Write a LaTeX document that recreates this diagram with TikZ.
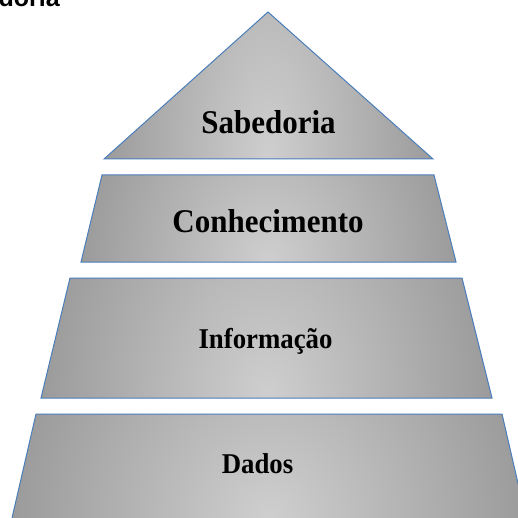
\documentclass[tikz,border=0pt]{standalone}
\usepackage{fontspec}
\setmainfont{Liberation Serif}
\newfontfamily\arialfont{Liberation Sans}
\definecolor{pyrlight}{gray}{0.81}
\definecolor{pyrmid}{gray}{0.60}
\definecolor{pyrdark}{gray}{0.38}
\definecolor{edgeblue}{HTML}{4A7EBB}
\pgfdeclareradialshading{pyrshade}{\pgfpointorigin}{color(0bp)=(pyrlight); color(25bp)=(pyrmid); color(50bp)=(pyrdark)}
\tikzset{
  edge/.style={draw=edgeblue, line width=1pt, line join=miter},
  lbl/.style={text=black, anchor=base, inner sep=0pt, yscale=1.07},
  bigfont/.style={font=\bfseries\fontsize{31}{36}\selectfont},
  midfont/.style={font=\bfseries\fontsize{26.8}{32}\selectfont}
}
\begin{document}
\begin{tikzpicture}[x=1pt,y=-1pt]
\useasboundingbox (0,0) rectangle (518,518);
\clip (0,0) rectangle (518,518);
\node[font=\arialfont\bfseries\fontsize{25}{30}\selectfont, anchor=base east, inner sep=0pt] (title) at (60,6.5) {doria};

% Sabedoria (triangle)
\begin{scope}
\clip (268,12) -- (433,159) -- (104,159) -- cycle;
\shade[shading=pyrshade] (268.5,159) ellipse [x radius=172pt, y radius=400pt];
\end{scope}
\draw[edge] (268,12) -- (433,159) -- (104,159) -- cycle;

% Conhecimento
\begin{scope}
\clip (102,175) -- (434,175) -- (456,262) -- (81,262) -- cycle;
\shade[shading=pyrshade] (268.5,262) ellipse [x radius=195pt, y radius=240pt];
\end{scope}
\draw[edge] (102,175) -- (434,175) -- (456,262) -- (81,262) -- cycle;

% Informacao
\begin{scope}
\clip (70,278) -- (462,278) -- (492,398) -- (41,398) -- cycle;
\shade[shading=pyrshade] (266.5,398) ellipse [x radius=234pt, y radius=330pt];
\end{scope}
\draw[edge] (70,278) -- (462,278) -- (492,398) -- (41,398) -- cycle;

% Dados
\begin{scope}
\clip (36,414) -- (502,414) -- (526,518) -- (12,518) -- cycle;
\shade[shading=pyrshade] (269,518) ellipse [x radius=267pt, y radius=290pt];
\end{scope}
\draw[edge] (12,518) -- (36,414) -- (502,414) -- (526,518);

\node[lbl, bigfont] (sab) at (268.5,134) {Sabedoria};
\node[lbl, bigfont] (con) at (268,232.7) {Conhecimento};
\node[lbl, midfont] (inf) at (265.5,348) {Informação};
\node[lbl, midfont] (dad) at (257.5,473) {Dados};
\end{tikzpicture}
\end{document}
